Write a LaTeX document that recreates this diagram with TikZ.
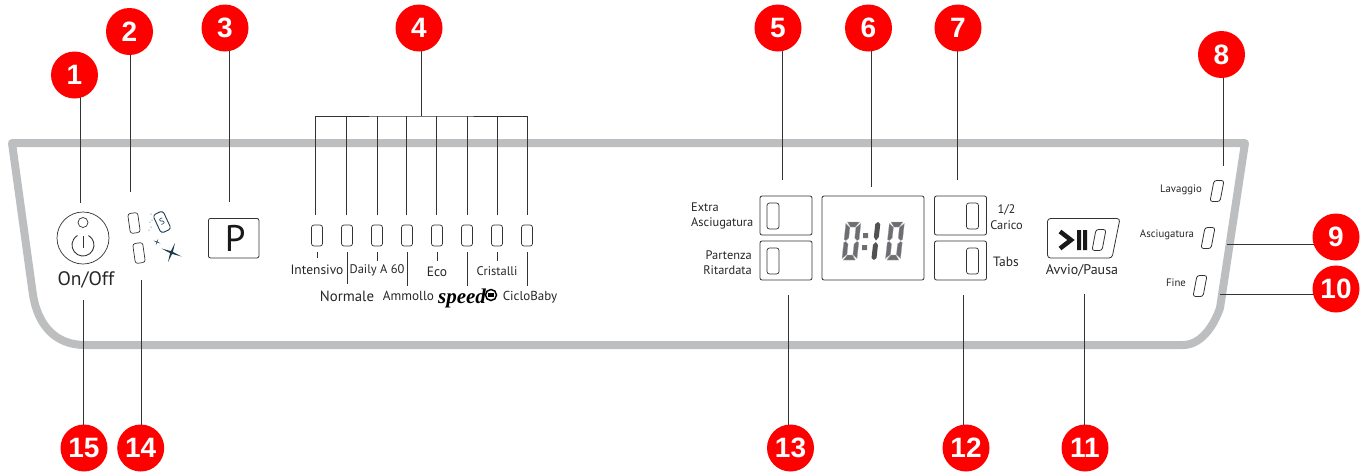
\documentclass[tikz,border=0pt]{standalone}
\usepackage{fontspec}
\setmainfont{PT Sans}
\newfontfamily\calloutfont{Liberation Sans}
\newfontfamily\speedfont{Liberation Serif}
\usetikzlibrary{backgrounds}
\definecolor{panelgray}{HTML}{BCBEC0}
\definecolor{calloutred}{HTML}{FF0000}
\definecolor{inkdark}{HTML}{333333}
\definecolor{saltblue}{HTML}{1C3A4E}
\definecolor{seggray}{HTML}{6D6E71}
\tikzset{
  callout/.style={circle, fill=calloutred, text=white, minimum size=47pt, inner sep=0pt,
    font=\calloutfont\bfseries\fontsize{28}{28}\selectfont},
  leader/.style={draw=inkdark, line width=1pt},
  led/.style={draw=inkdark, line width=0.7pt, rounded corners=2.5pt, minimum width=11pt, minimum height=21pt, inner sep=0pt},
  keybox/.style={draw=inkdark, line width=0.8pt, rounded corners=2pt, inner sep=0pt},
  lbl/.style={inner sep=0pt, text=black!85, font=\fontsize{13.5}{16}\selectfont},
  smalllbl/.style={inner sep=0pt, text=black!85, align=center, font=\fontsize{12.4}{15.5}\selectfont},
  phaselbl/.style={inner sep=0pt, text=black!85, font=\fontsize{10.8}{12}\selectfont},
  seg/.style={fill=seggray, draw=seggray!60, line width=0.3pt},
  pics/slantled/.style={code={
    \draw[draw=inkdark, line width=0.8pt, rounded corners=2.5pt] (-7,10.5) -- (3,10.5) -- (7,-10.5) -- (-3,-10.5) -- cycle;
  }},
  pics/digitzero/.style={code={
    \begin{scope}[xslant=0.11]
      \path[seg] (2,0) -- (14,0) -- (10.5,5) -- (5.5,5) -- cycle;
      \path[seg] (2,38) -- (14,38) -- (10.5,33) -- (5.5,33) -- cycle;
      \path[seg] (0.5,1.5) -- (5,5.5) -- (5,16) -- (2.5,18.5) -- (0.5,17.5) -- cycle;
      \path[seg] (0.5,20.5) -- (2.5,19.5) -- (5,22) -- (5,32.5) -- (0.5,36.5) -- cycle;
      \path[seg] (15.5,1.5) -- (11,5.5) -- (11,16) -- (13.5,18.5) -- (15.5,17.5) -- cycle;
      \path[seg] (15.5,20.5) -- (13.5,19.5) -- (11,22) -- (11,32.5) -- (15.5,36.5) -- cycle;
    \end{scope}
  }},
  pics/digitone/.style={code={
    \begin{scope}[xslant=0.11]
      \path[fill=inkdark!85] (2.5,0) -- (5,2) -- (5,15) -- (2.5,18.5) -- (0,15) -- (0,2) -- cycle;
      \path[fill=inkdark!85] (2.5,20) -- (5,23) -- (5,36) -- (2.5,38) -- (0,36) -- (0,23) -- cycle;
    \end{scope}
  }},
  pics/sparkle/.style={code={
    \fill[saltblue] (10,4) -- (1.4,-0.6) -- (3.5,-9.5) -- (-0.6,-1.4) -- (-10,-4) -- (-1.4,0.6) -- (-3.5,9.5) -- (0.6,1.4) -- cycle;
  }}
}

\begin{document}
\begin{tikzpicture}[x=1pt, y=-1pt]
    \useasboundingbox (0,0) rectangle (1363,472);
    % Callouts
    \node[callout] (c1) at (74.5,75) {1};
    \node[callout] (c2) at (129.5,31.5) {2};
    \node[callout] (c3) at (225,28) {3};
    \node[callout] (c4) at (419,28) {4};
    \node[callout] (c5) at (778,28) {5};
    \node[callout] (c6) at (868.5,28) {6};
    \node[callout] (c7) at (958,28) {7};
    \node[callout] (c8) at (1221.5,54.5) {8};
    \node[callout] (c9) at (1336,237) {9};
    \node[callout] (c10) at (1336,289) {10};
    \node[callout] (c11) at (1085,448) {11};
    \node[callout] (c12) at (966,448) {12};
    \node[callout] (c13) at (790.5,448) {13};
    \node[callout] (c14) at (140.7,448) {14};
    \node[callout] (c15) at (84,448) {15};
    % Free ends of the leaders
    \coordinate (e1) at (80.5,203);
    \coordinate (e2) at (130.5,192);
    \coordinate (e3) at (229,202);
    \coordinate (e4) at (421,116);
    \coordinate (e5) at (782,180);
    \coordinate (e6) at (871,187);
    \coordinate (e7) at (957.5,180);
    \coordinate (e8) at (1223.5,166);
    \coordinate (e9) at (1227,244.5);
    \coordinate (e10) at (1220,294);
    \coordinate (e11) at (1084.5,294);
    \coordinate (e12) at (963.5,295);
    \coordinate (e13) at (788.5,295);
    \coordinate (e14) at (141.5,280);
    \coordinate (e15) at (83.5,300);
    % Bracket ends
    \coordinate (d1) at (315,215);
    \coordinate (d2) at (346,215);
    \coordinate (d3) at (377,215);
    \coordinate (d4) at (406.5,215);
    \coordinate (d5) at (436.5,215);
    \coordinate (d6) at (467,215);
    \coordinate (d7) at (497,215);
    \coordinate (d8) at (527,215);
    % Panel and leaders go under the callouts
    \begin{pgfonlayer}{background}
      \draw[panelgray, line width=8pt, line join=round] (12,143) -- (1245,143) -- (1220,308)
        .. controls (1213,328) and (1200,345) .. (1183,345) -- (85,345)
        .. controls (55,345) and (38,325) .. (33,295) -- cycle;
      \draw[leader] (e1 |- c1) -- (e1);
      \draw[leader] (e2 |- c2) -- (e2);
      \draw[leader] (e3 |- c3) -- (e3);
      \draw[leader] (e4 |- c4) -- (e4);
      \draw[leader] (e5 |- c5) -- (e5);
      \draw[leader] (e6 |- c6) -- (e6);
      \draw[leader] (e7 |- c7) -- (e7);
      \draw[leader] (e8 |- c8) -- (e8);
      \draw[leader] (e9 -| c9) -- (e9);
      \draw[leader] (e10 -| c10) -- (e10);
      \draw[leader] (e11 |- c11) -- (e11);
      \draw[leader] (e12 |- c12) -- (e12);
      \draw[leader] (e13 |- c13) -- (e13);
      \draw[leader] (e14 |- c14) -- (e14);
      \draw[leader] (e15 |- c15) -- (e15);
    \end{pgfonlayer}
    % Bracket of the programmes
    \draw[leader] (d1) |- (e4) -| (d8);
    \draw[leader] (d2) -- (d2 |- e4);
    \draw[leader] (d3) -- (d3 |- e4);
    \draw[leader] (d4) -- (d4 |- e4);
    \draw[leader] (d5) -- (d5 |- e4);
    \draw[leader] (d6) -- (d6 |- e4);
    \draw[leader] (d7) -- (d7 |- e4);
    % Programme lamps
    \node[led] (led1) at (317,235.5) {};
    \node[led] (led2) at (347,235.5) {};
    \node[led] (led3) at (377,235.5) {};
    \node[led] (led4) at (407,235.5) {};
    \node[led] (led5) at (437,235.5) {};
    \node[led] (led6) at (467,235.5) {};
    \node[led] (led7) at (497,235.5) {};
    \node[led] (led8) at (527,235.5) {};
    % Programme labels
    \node[lbl] (intensivo) at (317,270) {Intensivo};
    \node[lbl, font=\fontsize{12.5}{15}\selectfont] (daily) at (377,270) {Daily A 60};
    \node[lbl] (eco) at (437,272) {Eco};
    \node[lbl, font=\fontsize{12.5}{15}\selectfont] (cristalli) at (497,271) {Cristalli};
    \node[lbl, font=\fontsize{14.8}{16}\selectfont] (normale) at (347,296) {Normale};
    \node[lbl, font=\fontsize{13.2}{15}\selectfont] (ammollo) at (408.5,296) {Ammollo};
    \node[lbl, font=\fontsize{13}{15}\selectfont] (ciclobaby) at (530,297) {CicloBaby};
    \node[inner sep=0pt, font=\speedfont\bfseries\itshape\fontsize{21}{21}\selectfont] (speed) at (462,298) {speed};
    \node[circle, draw=black, line width=1.5pt, fill=white, minimum size=11pt, inner sep=0pt] (speedmark) at (491,295) {};
    \fill[black] (488,293) rectangle (494,297);
    % Ticks under the lamps
    \draw[leader] ([yshift=-6pt]led1.south) -- ([yshift=-12pt]led1.south);
    \draw[leader] ([yshift=-6pt]led2.south) -- ([yshift=-38pt]led2.south);
    \draw[leader] ([yshift=-6pt]led3.south) -- ([yshift=-15pt]led3.south);
    \draw[leader] ([yshift=-6pt]led4.south) -- ([yshift=-40pt]led4.south);
    \draw[leader] ([yshift=-6pt]led5.south) -- ([yshift=-15pt]led5.south);
    \draw[leader] ([yshift=-6pt]led6.south) -- ([yshift=-40pt]led6.south);
    \draw[leader] ([yshift=-6pt]led7.south) -- ([yshift=-15pt]led7.south);
    \draw[leader] ([yshift=-6pt]led8.south) -- ([yshift=-40pt]led8.south);
    % On/Off
    \node[circle, draw=inkdark, line width=0.7pt, minimum size=52pt, inner sep=0pt] (onoff) at (83,238) {};
    \node[circle, draw=inkdark, line width=0.7pt, minimum size=10pt, inner sep=0pt] (onofflamp) at (83,222.5) {};
    \draw[inkdark, line width=0.9pt] (88.5,235.5) arc[start angle=60, end angle=-240, radius=11pt];
    \draw[inkdark, line width=0.9pt] (83,236) -- (83,248);
    \node[inner sep=0pt, text=black!85, font=\fontsize{19.5}{20}\selectfont] (onofftext) at (86,280) {On/Off};
    % Salt and rinse aid
    \node[led, rotate=8, minimum width=10pt, minimum height=20pt] (ledsalt) at (134,223) {};
    \node[led, rotate=8, minimum width=10pt, minimum height=20pt] (ledrinse) at (139,253) {};
    \node[draw=saltblue, line width=0.9pt, rounded corners=3pt, rotate=25, minimum width=11pt, minimum height=20pt, inner sep=0pt, text=saltblue, font=\fontsize{9}{9}\selectfont] (salt) at (162,222) {S};
    \fill[saltblue] (151,214) circle (0.5pt) (152,220) circle (0.5pt) (150,222) circle (0.5pt) (151,227) circle (0.5pt) (149,230) circle (0.5pt);
    \pic (bigstar) at (171.5,252.5) {sparkle};
    \pic[scale=0.35] (smallstar) at (157,242) {sparkle};
    % Program key
    \node[keybox, minimum width=50.5pt, minimum height=39.5pt, font=\fontsize{37}{37}\selectfont, text=black!90] (progkey) at (233.7,238.2) {\hspace{3pt}P};
    % Keys on both sides of the display
    \node[keybox, minimum width=52pt, minimum height=39pt] (dryKey) at (786,215.5) {};
    \node[keybox, minimum width=52pt, minimum height=39pt] (delayKey) at (786,260.5) {};
    \node[led, minimum width=12pt, minimum height=26pt] (dryLed) at (773,216) {};
    \node[led, minimum width=12pt, minimum height=26pt] (delayLed) at (773,261) {};
    \node[keybox, minimum width=52pt, minimum height=39pt] (halfKey) at (960.5,215.5) {};
    \node[keybox, minimum width=52pt, minimum height=39pt] (tabsKey) at (960.5,260.5) {};
    \node[led, minimum width=12pt, minimum height=26pt] (halfLed) at (972.5,216) {};
    \node[led, minimum width=12pt, minimum height=26pt] (tabsLed) at (972.5,261) {};
    \node[smalllbl, align=left, anchor=west] (drytext) at (691,216) {Extra\\Asciugatura};
    \node[smalllbl, align=right, anchor=east] (delaytext) at (752,262.5) {Partenza\\Ritardata};
    \node[smalllbl] (halftext) at (1006.5,217) {1/2\\Carico};
    \node[lbl] (tabstext) at (1006,262) {Tabs};
    % Display
    \node[keybox, minimum width=102pt, minimum height=84pt] (display) at (873,238) {};
    \pic (digA) at (845.5,222) {digitzero};
    \fill[seggray] (863,233) rectangle (868,238) (862,245) rectangle (867,250);
    \pic (digB) at (875.5,222) {digitone};
    \pic (digC) at (889,222) {digitzero};
    % Start key
    \draw[draw=inkdark, line width=0.8pt, rounded corners=3pt] (1047.5,218.5) -- (1120,218.5) -- (1112,258) -- (1047.5,258) -- cycle;
    \draw[black!90, line width=4.5pt] (1060,231.5) -- (1071,240) -- (1060,248.5);
    \fill[black!90] (1077,230) rectangle (1081,250) (1083,230) rectangle (1087,250);
    \pic (startled) at (1099,240) {slantled};
    \node[lbl, font=\fontsize{14}{16}\selectfont] (starttext) at (1082,270) {Avvio/Pausa};
    % Phase lamps
    \pic (washled) at (1217,191) {slantled};
    \pic (dryingled) at (1208,238) {slantled};
    \pic (endled) at (1200,286) {slantled};
    \node[phaselbl] (washtext) at (1181,190) {Lavaggio};
    \node[phaselbl] (dryingtext) at (1167,235) {Asciugatura};
    \node[phaselbl] (endtext) at (1176,283) {Fine};
\end{tikzpicture}
\end{document}
